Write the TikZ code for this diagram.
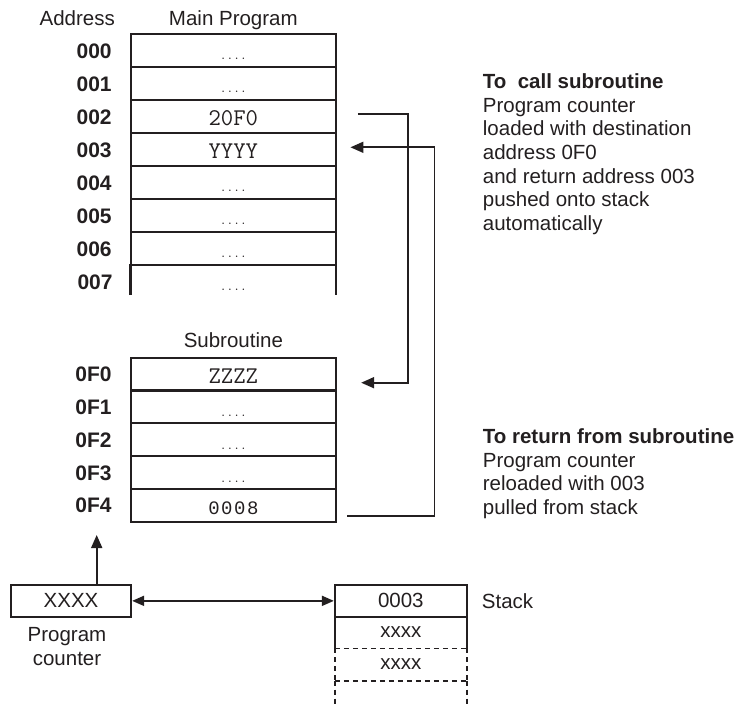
\documentclass[tikz,border=0pt]{standalone}
\usepackage{fontspec}
\setmainfont{Liberation Sans}
\newfontfamily\lmono{Liberation Mono}[LetterSpace=8]
\usetikzlibrary{arrows.meta}
\definecolor{ink}{HTML}{231F20}
\newcommand\celldots{{\fontsize{13}{13}\ttfamily....}}
\newcommand\cour[1]{{\fontsize{24}{24}\ttfamily #1}}
\begin{document}
\begin{tikzpicture}[x=1pt,y=-1pt,
  every node/.style={inner sep=0pt, text=ink, font=\fontsize{20.5}{23.7}\selectfont},
  boxline/.style={draw=ink, line width=2.3pt},
  cell/.style={boxline, minimum width=205.3pt, minimum height=33pt, text height=25.5pt, text depth=7.5pt},
  opencell/.style={minimum width=205.3pt, minimum height=30pt, text height=25.5pt, text depth=4.5pt},
  subcell/.style={boxline, minimum width=205.3pt, minimum height=32.8pt, text height=26pt, text depth=6.8pt},
  addr/.style={font=\fontsize{21}{23.7}\selectfont\bfseries, anchor=base east},
  stk/.style={minimum width=131.7pt},
  dashline/.style={draw=ink, line width=1.5pt, dash pattern=on 5pt off 4pt},
  conn/.style={draw=ink, line width=1.8pt},
  tip/.style={-{Triangle[length=13pt,width=11pt]}},
]
\useasboundingbox (0,0) rectangle (747,707);

% headers
\node[anchor=base east] (haddr) at (115,25) {Address};
\node[anchor=base] (hmain) at (233.35,25) {Main Program};

% main program cells
\node[cell] (m0) at (233.35,50.5) {\celldots};
\node[cell] (m1) at (233.35,83.5) {\celldots};
\node[cell] (m2) at (233.35,116.5) {\cour{20F0}};
\node[cell] (m3) at (233.35,149.5) {\cour{YYYY}};
\node[cell] (m4) at (233.35,182.5) {\celldots};
\node[cell] (m5) at (233.35,215.5) {\celldots};
\node[cell] (m6) at (233.35,248.5) {\celldots};
\node[opencell] (m7) at (233.35,280) {\celldots};
\draw[boxline] (m7.south west) -- (m7.north west) -- (m7.north east) -- (m7.south east);

\foreach \i/\t in {0/000,1/001,2/002,3/003,4/004,5/005,6/006,7/007}
  \node[addr] (a\i) at ([xshift=-17.7pt,yshift=1pt]m\i.base west) {\t};

% subroutine
\node[anchor=base] (hsub) at (233.35,347.3) {Subroutine};
\node[subcell] (s0) at (233.35,374.1) {\cour{ZZZZ}};
\node[subcell] (s1) at (233.35,406.9) {\celldots};
\node[subcell] (s2) at (233.35,439.7) {\celldots};
\node[subcell] (s3) at (233.35,472.5) {\celldots};
\node[subcell] (s4) at (233.35,505.3) {{\lmono\fontsize{19}{19}\selectfont 0008}};
\foreach \i/\t in {0/0F0,1/0F1,2/0F2,3/0F3,4/0F4}
  \node[addr] (b\i) at ([xshift=-17.7pt,yshift=2pt]s\i.base west) {\t};

% explanatory text
\node[anchor=base west] (tcall) at (482.7,88.3) {\begin{tabular}[t]{@{}l@{}}\textbf{To\ \ call subroutine}\\Program counter\\loaded with destination\\address 0F0\\and return address 003\\pushed onto stack\\automatically\end{tabular}};
\node[anchor=base west] (tret) at (482.7,443.3) {\begin{tabular}[t]{@{}l@{}}\textbf{To return from subroutine}\\Program counter\\reloaded with 003\\pulled from stack\end{tabular}};

% connectors between main program and subroutine
\draw[conn,tip] ([xshift=20.7pt,yshift=2.2pt]m2.east) -- ++(50,0) |- ([xshift=24pt,yshift=-8.6pt]s0.east);
\draw[conn,tip] ([xshift=10pt,yshift=-10.3pt]s4.east) -- ++(87.3,0) |- ([xshift=13.3pt,yshift=2.2pt]m3.east);

% program counter
\node[boxline, minimum width=120pt, minimum height=31.7pt] (pc) at (71,600.85) {XXXX};
\node[anchor=base] (pcl) at (67,641.7) {\begin{tabular}[t]{@{}c@{}}Program\\counter\end{tabular}};
\coordinate (pctip) at (96.7,535);
\draw[conn,tip] ([xshift=25.7pt]pc.north) -- (pctip);

% stack
\node[boxline, stk, minimum height=31.7pt] (st0) at (400.85,600.85) {0003};
\node[stk, minimum height=31.6pt] (st1) at (400.85,632.5) {xxxx};
\node[stk, minimum height=32.4pt] (st2) at (400.85,664.5) {xxxx};
\node[stk, minimum height=26.3pt] (st3) at (400.85,693.85) {};
\draw[boxline] (st1.south west) -- (st1.north west);
\draw[boxline] (st1.south east) -- (st1.north east);
\draw[dashline] (st1.south west) -- (st1.south east);
\draw[dashline] (st2.north west) -- (st2.south west);
\draw[dashline] (st2.north east) -- (st2.south east);
\draw[dashline] (st2.south west) -- (st2.south east);
\draw[dashline] (st3.north west) -- (st3.south west);
\draw[dashline] (st3.north east) -- (st3.south east);
\node[anchor=west] (stl) at (481.7,600.85) {Stack};

\draw[conn,{Triangle[length=12pt,width=10pt]}-{Triangle[length=12pt,width=10pt]}] (pc.east) -- (st0.west);
\end{tikzpicture}
\end{document}
